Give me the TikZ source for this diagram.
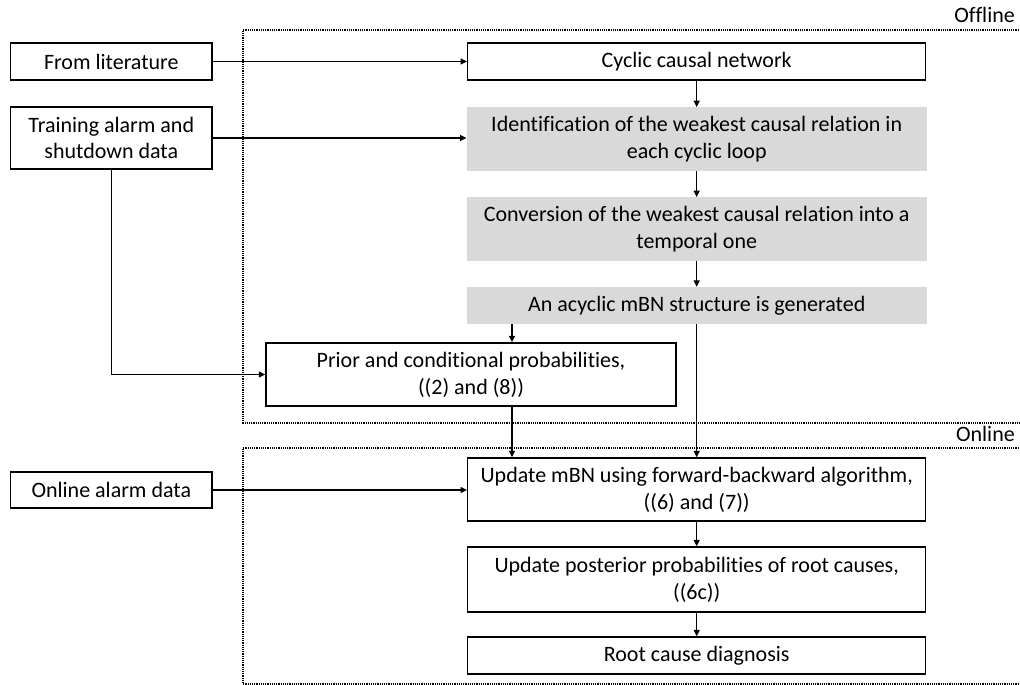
\documentclass[tikz,border=0pt]{standalone}
\usepackage{fontspec}
\setmainfont{Carlito}[Ligatures={NoCommon,NoContextual}]
\usetikzlibrary{arrows.meta,calc}
\definecolor{boxgray}{RGB}{217,217,217}
\begin{document}
\begin{tikzpicture}[x=1pt,y=-1pt,
  txt/.style={font=\fontsize{22}{26.8}\selectfont, align=center, inner sep=0pt},
  wbox/.style={txt, draw=black, line width=1.4pt, fill=white},
  gbox/.style={txt, fill=boxgray},
  arr/.style={line width=1.4pt, -{Triangle[length=6.5pt,width=6pt]}},
  dotline/.style={line width=1.2pt, dash pattern=on 1.2pt off 1pt}]
\useasboundingbox (0,0) rectangle (1020,685);
% dotted frames
\draw[dotline] (1021,30) -- (243,30) -- (243,423) -- (1021,423);
\draw[dotline] (1021,448) -- (243,448) -- (243,684) -- (1021,684);
\node[txt, anchor=base east] (offl) at (1015,23) {Offline};
\node[txt, anchor=base east] (onl) at (1015,441.5) {Online};
% left inputs
\node[wbox, minimum width=201.5pt, minimum height=37pt] (lit) at (111.3,61.5) {From literature};
\node[wbox, minimum width=201.5pt, minimum height=62pt] (train) at (111.3,138) {Training alarm and\\shutdown data};
\node[wbox, minimum width=201.5pt, minimum height=36pt] (oad) at (111.3,490) {Online alarm data};
% main column
\node[wbox, minimum width=458pt, minimum height=37pt] (cyc) at (696.7,61.5) {Cyclic causal network};
\node[gbox, minimum width=460pt, minimum height=63.5pt] (ident) at (696.7,139) {Identification of the weakest causal relation in\\each cyclic loop};
\node[gbox, minimum width=460pt, minimum height=63.5pt] (conv) at (696.7,229) {Conversion of the weakest causal relation into a\\temporal one};
\node[gbox, minimum width=460pt, minimum height=37pt] (acyc) at (696.7,305.5) {An acyclic mBN structure is generated};
\node[wbox, minimum width=410pt, minimum height=63pt] (prior) at (471,374.5) {Prior and conditional probabilities,\\((2) and (8))};
\node[wbox, minimum width=458pt, minimum height=63pt] (upd) at (696.7,489.5) {Update mBN using forward-backward algorithm,\\((6) and (7))};
\node[wbox, minimum width=458pt, minimum height=65pt] (post) at (696.7,579.5) {Update posterior probabilities of root causes,\\((6c))};
\node[wbox, minimum width=458pt, minimum height=37pt] (root) at (696.7,655.5) {Root cause diagnosis};
% helper coordinates
\coordinate (px) at (512,0);
% connectors
\draw[arr] (lit.east) -- (cyc.west);
\draw[arr] (train.east) -- (train.east -| ident.west);
\draw[arr] (cyc.south) -- (ident.north);
\draw[arr] (ident.south) -- (conv.north);
\draw[arr] (conv.south) -- (acyc.north);
\draw[arr] (acyc.south -| px) -- (prior.north -| px);
\draw[arr] (train.south) |- (prior.west);
\draw[arr] (prior.south -| px) -- (upd.north -| px);
\draw[arr] (acyc.south) -- (upd.north);
\draw[arr] (oad.east) -- (oad.east -| upd.west);
\draw[arr] (upd.south) -- (post.north);
\draw[arr] (post.south) -- (root.north);
\end{tikzpicture}
\end{document}
